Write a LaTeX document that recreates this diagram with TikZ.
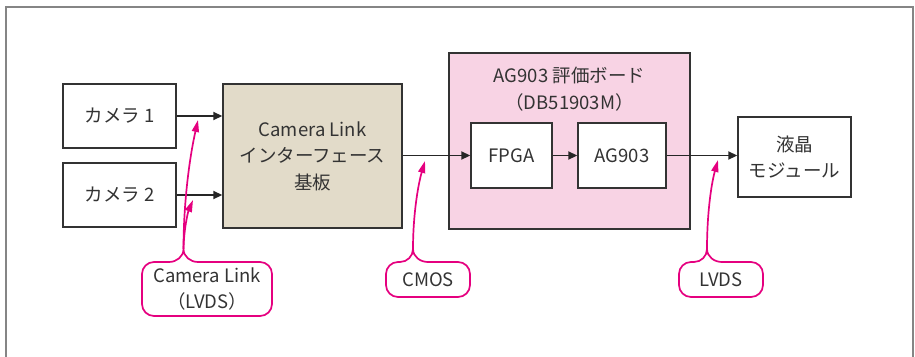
\documentclass[tikz,border=0pt]{standalone}
\usepackage{fontspec}
\setmainfont{Noto Sans CJK JP}
\usetikzlibrary{arrows.meta}
\definecolor{framegray}{HTML}{858585}
\definecolor{boxline}{HTML}{333333}
\definecolor{tanfill}{HTML}{E2DBC9}
\definecolor{pinkfill}{HTML}{F8D3E4}
\definecolor{magline}{HTML}{E5007F}
\begin{document}
\begin{tikzpicture}[x=1pt,y=-1pt,
  every node/.style={font=\fontsize{18.5}{26.5}\selectfont, text=black!80, align=center, inner sep=0pt},
  blk/.style={draw=boxline, line width=1.4pt, fill=white},
  sig/.style={draw=black!85, line width=1.8pt, -{Triangle[length=9pt,width=8pt]}},
  callout/.style={draw=magline, line width=1.7pt},
  leader/.style={draw=magline, line width=1.7pt, -{Triangle[length=12pt,width=7pt]}},
  txt/.style={draw=none, fill=none}]
\useasboundingbox (0,0) rectangle (915,356);
\draw[framegray, line width=1.3pt] (6,360) -- (6,7) -- (913,7) -- (913,360);
% boxes
\node[blk, minimum width=113pt, minimum height=64pt] (cam1) at (119.5,116) {カメラ 1};
\node[blk, minimum width=113pt, minimum height=64pt] (cam2) at (119.5,195) {カメラ 2};
\node[blk, fill=tanfill, minimum width=179pt, minimum height=144pt] (iface) at (312.5,156) {Camera Link\\インターフェース\\基板};
\node[blk, fill=pinkfill, minimum width=241pt, minimum height=176pt] (board) at (569.5,141) {};
\node[txt] (title) at (569.5,89) {AG903 評価ボード\\（DB51903M）};
\node[blk, minimum width=81pt, minimum height=65pt] (fpga) at (511.5,155.5) {FPGA};
\node[blk, minimum width=88pt, minimum height=65pt] (ag) at (622,155.5) {AG903};
\node[blk, minimum width=113pt, minimum height=80pt] (lcd) at (794.5,157) {液晶\\モジュール};
% signal arrows
\draw[sig] (cam1.east) -- (cam1.east -| iface.west);
\draw[sig] (cam2.east) -- (cam2.east -| iface.west);
\draw[sig] (iface.east |- fpga.west) -- (fpga.west);
\draw[sig] (fpga.east) -- (ag.west);
\draw[sig] (ag.east) -- (ag.east -| lcd.west);
% callout targets
\coordinate (t1) at (198,120);
\coordinate (t2) at (193,200);
\coordinate (t3) at (425,161);
\coordinate (t4) at (718,160);
% callout texts
\node[txt] (clk) at (207,289) {Camera Link\\（LVDS）};
\node[txt] (cmos) at (428,280) {CMOS};
\node[txt] (lvds) at (721,280) {LVDS};
% bubble 1
\coordinate (j1) at (183.5,249);
\draw[callout] (j1) to[out=-90,in=0] (169,262) [rounded corners=12pt] -| (142,316) -| (272,262) [sharp corners] -- (198,262) to[out=180,in=-90] (j1);
\draw[leader] (j1) .. controls (183.5,205) and (189,160) .. (t1);
\draw[leader] (j1) .. controls (184,228) and (188,212) .. (t2);
% bubble 2
\coordinate (j2) at (413,249);
\draw[callout] (j2) to[out=-90,in=0] (400,262) [rounded corners=12pt] -| (386,297) -| (470,262) [sharp corners] -- (428,262) to[out=180,in=-90] (j2);
\draw[leader] (j2) .. controls (413,215) and (418,185) .. (t3);
% bubble 3
\coordinate (j3) at (707,249);
\draw[callout] (j3) to[out=-90,in=0] (694,262) [rounded corners=12pt] -| (679,297) -| (763,262) [sharp corners] -- (722,262) to[out=180,in=-90] (j3);
\draw[leader] (j3) .. controls (707,215) and (711,185) .. (t4);
\end{tikzpicture}
\end{document}
